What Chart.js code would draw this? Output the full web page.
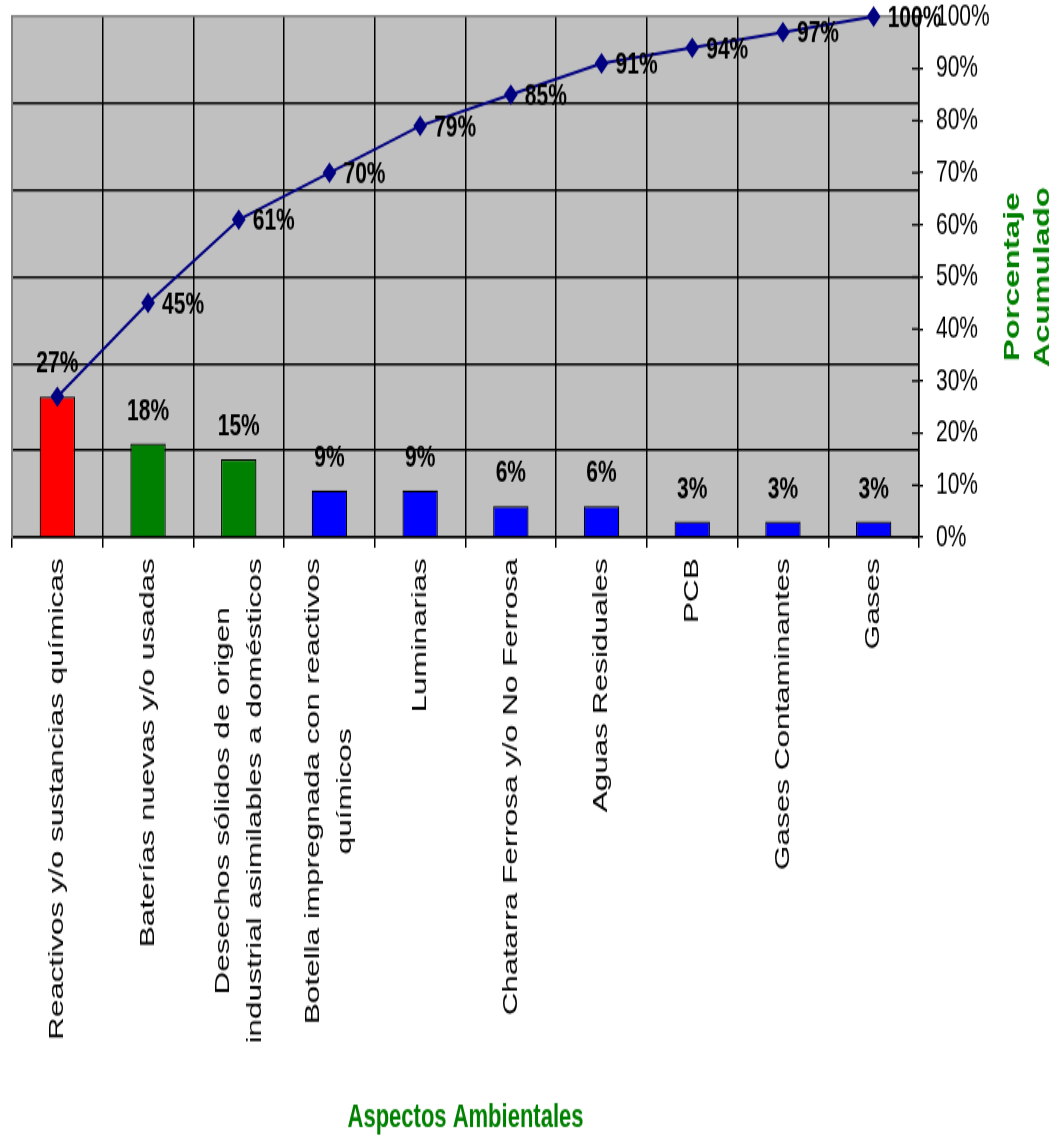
<!DOCTYPE html>
<html>
<head>
<meta charset="utf-8">
<script src="https://cdn.jsdelivr.net/npm/chart.js@4.4.0/dist/chart.umd.min.js"></script>
<style>
  html, body { margin: 0; padding: 0; background: #fff; }
  body { width: 1059px; height: 1136px; }
  #wrap { width: 1059px; height: 757px; transform: scaleY(1.5007); transform-origin: 0 0; }
</style>
</head>
<body>
<div id="wrap"><canvas id="chart" width="1059" height="757"></canvas></div>
<script>
// datos del diagrama de Pareto
const categories = [
    ['Reactivos y/o sustancias químicas'],
    ['Baterías nuevas y/o usadas'],
    ['Desechos sólidos de origen', 'industrial asimilables a domésticos'],
    ['Botella impregnada con reactivos', 'químicos'],
    ['Luminarias'],
    ['Chatarra Ferrosa y/o No Ferrosa'],
    ['Aguas Residuales'],
    ['PCB'],
    ['Gases Contaminantes'],
    ['Gases']
];
const barValues = [27, 18, 15, 9, 9, 6, 6, 3, 3, 3];
const cumulativeValues = [27, 45, 61, 70, 79, 85, 91, 94, 97, 100];
const barColors = ['#FF0000', '#008000', '#008000', '#0000FF', '#0000FF', '#0000FF', '#0000FF', '#0000FF', '#0000FF', '#0000FF'];
const xTitle = 'Aspectos Ambientales';
const yTitle = ['Porcentaje', 'Acumulado'];

const FONT = '"Liberation Sans", Arial, sans-serif';
const GREEN = '#008000';

// fondo gris del área de trazado
const plotBg = {
    id: 'plotBg',
    beforeDraw(chart) {
        const { ctx, chartArea: a } = chart;
        ctx.save();
        ctx.fillStyle = '#C0C0C0';
        ctx.fillRect(a.left, a.top, a.right - a.left, a.bottom - a.top);
        ctx.restore();
    }
};

// etiquetas, títulos y marcas interiores
const extras = {
    id: 'extras',
    afterDraw(chart) {
        const { ctx, chartArea: a, scales } = chart;
        ctx.save();

        // marcas del eje derecho (parte interior)
        ctx.strokeStyle = '#000';
        ctx.lineWidth = 1.3;
        scales.y.ticks.forEach(t => {
            const y = scales.y.getPixelForValue(t.value);
            ctx.beginPath();
            ctx.moveTo(a.right - 7, y);
            ctx.lineTo(a.right, y);
            ctx.stroke();
        });

        // etiquetas de datos
        ctx.fillStyle = '#000';
        ctx.font = 'bold 21px ' + FONT;
        const barMeta = chart.getDatasetMeta(0);
        barMeta.data.forEach((el, i) => {
            ctx.textAlign = 'center';
            ctx.textBaseline = 'alphabetic';
            ctx.fillText(barValues[i] + '%', el.x, el.y - 16);
        });
        const lineMeta = chart.getDatasetMeta(1);
        lineMeta.data.forEach((el, i) => {
            if (i === 0) return; // coincide con la etiqueta de la barra
            ctx.textAlign = 'left';
            ctx.textBaseline = 'middle';
            ctx.fillText(cumulativeValues[i] + '%', el.x + 14, el.y + 1);
        });

        // etiquetas de categoría rotadas
        ctx.font = '21px ' + FONT;
        const top = a.bottom + 14;
        categories.forEach((lines, i) => {
            const x = scales.x.getPixelForValue(i);
            const w = Math.max(...lines.map(l => ctx.measureText(l).width));
            ctx.save();
            ctx.translate(x, top);
            ctx.rotate(-Math.PI / 2);
            ctx.textAlign = 'center';
            ctx.textBaseline = 'middle';
            lines.forEach((l, j) => {
                ctx.fillText(l, -w / 2, (j - (lines.length - 1) / 2) * 32);
            });
            ctx.restore();
        });

        // títulos de ejes
        ctx.fillStyle = GREEN;
        ctx.font = 'bold 22px ' + FONT;
        ctx.textAlign = 'center';
        ctx.textBaseline = 'alphabetic';
        ctx.fillText(xTitle, (a.left + a.right) / 2, 751);

        ctx.save();
        ctx.translate(1028, (a.top + a.bottom) / 2);
        ctx.rotate(-Math.PI / 2);
        ctx.textBaseline = 'middle';
        ctx.font = 'bold 22px ' + FONT;
        yTitle.forEach((l, j) => ctx.fillText(l, 0, (j - 0.5) * 30));
        ctx.restore();

        ctx.restore();
    }
};

const ctx = document.getElementById('chart').getContext('2d');
new Chart(ctx, {
    type: 'bar',
    data: {
        labels: categories.map(c => c.join(' ')),
        datasets: [{
            type: 'bar',
            data: barValues,
            yAxisID: 'y',
            backgroundColor: barColors,
            borderColor: '#000',
            borderWidth: 1.2,
            barPercentage: 0.39,
            categoryPercentage: 1,
            order: 2
        }, {
            type: 'line',
            data: cumulativeValues,
            yAxisID: 'y',
            borderColor: '#000080',
            borderWidth: 2,
            pointStyle: 'rectRot',
            pointRadius: 5.5,
            pointBackgroundColor: '#000080',
            pointBorderColor: '#000080',
            tension: 0,
            clip: false,
            order: 1
        }]
    },
    options: {
        responsive: false,
        animation: false,
        devicePixelRatio: 1,
        layout: { autoPadding: false, padding: { left: 12, top: 11, right: 0, bottom: 392 } },
        plugins: { legend: { display: false }, tooltip: { enabled: false } },
        scales: {
            x: {
                offset: true,
                ticks: { display: false },
                grid: {
                    offset: true,
                    color: c => c.index === 0 ? '#808080' : '#000',
                    lineWidth: 1.5,
                    tickColor: '#000',
                    tickLength: 7
                },
                border: { color: '#000', width: 1.5 }
            },
            yg: {
                position: 'left',
                min: 0,
                max: 6,
                ticks: { display: false, stepSize: 1 },
                grid: {
                    color: c => c.tick && c.tick.value === 6 ? '#808080' : '#000',
                    lineWidth: 1.4,
                    drawTicks: false
                },
                border: { color: '#808080', width: 2 },
                afterFit: s => { s.width = 0; }
            },
            y: {
                position: 'right',
                min: 0,
                max: 100,
                ticks: {
                    stepSize: 10,
                    padding: 13,
                    color: '#000',
                    font: { family: FONT, size: 21 },
                    callback: v => v + '%'
                },
                grid: { drawOnChartArea: false, color: '#000', tickLength: 4, lineWidth: 1.3 },
                border: { color: '#000', width: 1.5 },
                afterFit: s => { s.width = 140; s.paddingTop = 0; s.paddingBottom = 0; }
            }
        }
    },
    plugins: [plotBg, extras]
});
</script>
</body>
</html>
